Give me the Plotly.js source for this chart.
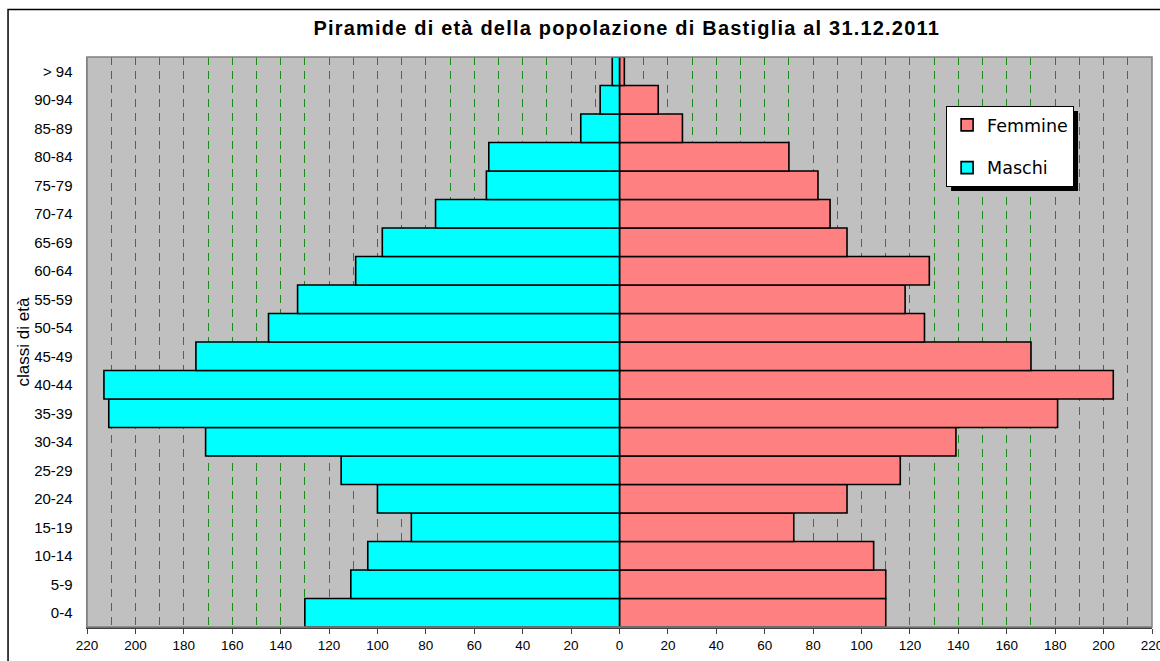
<!DOCTYPE html>
<html>
<head>
<meta charset="utf-8">
<script src="https://cdn.plot.ly/plotly-3.0.1.min.js"></script>
<style>
  html, body { margin: 0; padding: 0; background: #ffffff; }
  #chart { width: 1160px; height: 661px; }
  #chart .gtitle { letter-spacing: 1.2px; }
</style>
</head>
<body>
<div id="chart"></div>
<script>
// ---- data ----
const classi = ["0-4", "5-9", "10-14", "15-19", "20-24", "25-29", "30-34", "35-39", "40-44",
                "45-49", "50-54", "55-59", "60-64", "65-69", "70-74", "75-79", "80-84", "85-89", "90-94", "> 94"];
const maschi = [130, 111, 104, 86, 100, 115, 171, 211, 213, 175, 145, 133, 109, 98, 76, 55, 54, 16, 8, 3];
const femmine = [110, 110, 105, 72, 94, 116, 139, 181, 204, 170, 126, 118, 128, 94, 87, 82, 70, 26, 16, 2];
const tickValues = [-220, -200, -180, -160, -140, -120, -100, -80, -60, -40, -20, 0, 20, 40, 60, 80, 100, 120, 140, 160, 180, 200, 220];
const tickLabels = ["220", "200", "180", "160", "140", "120", "100", "80", "60", "40", "20", "0", "20", "40", "60", "80", "100", "120", "140", "160", "180", "200", "220"];

// ---- layout geometry (pixels) ----
const W = 1160, H = 661;
const PL = 86.5, PR = 1152, PT = 57, PB = 627;
const px = x => (x - PL) / (PR - PL);
const py = y => (PB - y) / (PB - PT);

const FONT = "Arial, 'Liberation Sans', sans-serif";
const GRID = "#1a8a1a";

const traces = [
  {
    type: "bar", orientation: "h", name: "Femmine",
    y: classi, x: femmine,
    marker: { color: "#FF8080", line: { color: "#000000", width: 1.6 } },
    legendgroup: "f",
    hoverinfo: "x+y"
  },
  {
    type: "bar", orientation: "h", name: "Maschi",
    y: classi, x: maschi.map(v => -v),
    marker: { color: "#00FFFF", line: { color: "#000000", width: 1.6 } },
    legendgroup: "m",
    hoverinfo: "y"
  }
];

const layout = {
  width: W, height: H,
  paper_bgcolor: "#ffffff",
  plot_bgcolor: "#C0C0C0",
  margin: { l: PL, r: W - PR, t: PT, b: H - PB, pad: 0 },
  barmode: "overlay",
  bargap: 0,
  font: { family: FONT, color: "#000000" },
  title: {
    text: "<b>Piramide di età della popolazione di Bastiglia al 31.12.2011</b>",
    font: { family: FONT, size: 20, color: "#000000" },
    x: px(313), xref: "paper", xanchor: "left",
    y: 1 - 28 / H, yref: "container", yanchor: "middle"
  },
  xaxis: {
    range: [-220, 220],
    tickmode: "array",
    tickvals: tickValues,
    ticktext: tickLabels,
    tickfont: { family: FONT, size: 13.5, color: "#000000" },
    ticklabeloverflow: "allow",
    ticks: "outside", ticklen: 5, tickwidth: 1, tickcolor: "#404040",
    showgrid: true, gridcolor: GRID, gridwidth: 1, griddash: "8px,6px",
    minor: { tickmode: "linear", tick0: 0, dtick: 10, showgrid: true, gridcolor: GRID, gridwidth: 1, griddash: "8px,6px", ticks: "" },
    zeroline: false,
    showline: true, linecolor: "#404040", linewidth: 1.5,
    fixedrange: true
  },
  yaxis: {
    type: "category",
    categoryorder: "array", categoryarray: classi,
    range: [-0.5, classi.length - 0.5],
    tickfont: { family: FONT, size: 15, color: "#000000" },
    ticks: "", ticklabelstandoff: 10,
    showgrid: false, zeroline: false,
    showline: true, linecolor: "#808080", linewidth: 1.5,
    title: { text: "classi di età", font: { family: FONT, size: 17, color: "#000000" }, standoff: 0 },
    fixedrange: true
  },
  legend: {
    x: px(946), y: py(106), xanchor: "left", yanchor: "top",
    bgcolor: "#ffffff", bordercolor: "#000000", borderwidth: 1,
    font: { family: "'DejaVu Sans', Arial, sans-serif", size: 17.5, color: "#000000" },
    traceorder: "grouped", tracegroupgap: 17,
    itemwidth: 30
  },
  shapes: [
    // legend shadow
    { type: "rect", xref: "paper", yref: "paper", layer: "above",
      x0: px(951), x1: px(1078), y0: py(191), y1: py(111),
      fillcolor: "#000000", line: { width: 0 } },
    // plot area border
    { type: "rect", xref: "paper", yref: "paper", layer: "above",
      x0: 0, x1: 1, y0: 0, y1: 1,
      line: { color: "#808080", width: 1.5 } },
    // outer chart frame
    { type: "rect", xref: "paper", yref: "paper", layer: "above",
      x0: px(7.5), x1: px(1175), y0: py(675), y1: py(9.5),
      line: { color: "#000000", width: 1.5 } }
  ]
};

Plotly.newPlot("chart", traces, layout, { displayModeBar: false, staticPlot: true });
</script>
</body>
</html>
